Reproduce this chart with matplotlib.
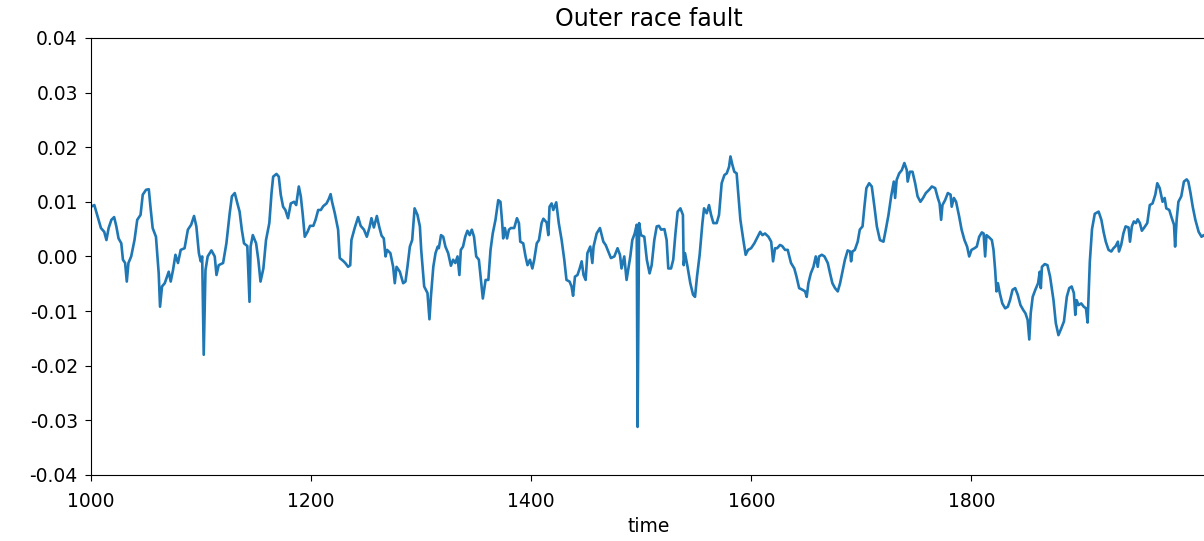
import matplotlib
matplotlib.use("Agg")
import matplotlib.pyplot as plt
import numpy as np

# values (time, amplitude)
time = [1000, 1003, 1006, 1009, 1012, 1014, 1016, 1018.5, 1021, 1023, 1025, 1027.5, 1029, 1031, 1032.5, 1034,
        1036.5, 1039.5, 1042, 1045, 1047, 1050, 1052.5, 1054, 1056, 1059, 1061.5, 1062.7, 1064.5, 1067, 1069,
        1070.6, 1072.4, 1074.5, 1076.7, 1079, 1081.5, 1085, 1088, 1091, 1093.6, 1095.7, 1098, 1099.7, 1101,
        1102.4, 1104, 1106, 1109.4, 1112.4, 1114, 1116, 1120, 1123, 1126, 1128, 1130.6, 1133, 1135, 1137, 1139,
        1142, 1144, 1145, 1147, 1150, 1152, 1154, 1156.6, 1159, 1162, 1164, 1165.5, 1168.5, 1170.6, 1172.4,
        1174.5, 1176.6, 1179, 1181.5, 1184.5, 1186.4, 1188.8, 1190.6, 1192.4, 1194.2, 1196.7, 1199, 1202, 1204,
        1206.4, 1208.8, 1211, 1214, 1216, 1217.7, 1219, 1221.5, 1224.5, 1226, 1229, 1231, 1233.6, 1235.5, 1236.6,
        1239.7, 1242.7, 1245, 1248, 1250.6, 1253, 1254.8, 1257, 1259.7, 1262, 1264, 1266, 1267.6, 1269, 1272,
        1274.5, 1276, 1277.6, 1280.6, 1283.6, 1285.7, 1287.5, 1289.7, 1291.8, 1294, 1296.6, 1298.8, 1300, 1302.7,
        1305.7, 1307.5, 1308.8, 1311, 1313, 1315, 1316, 1318, 1320, 1322, 1324.5, 1327, 1329, 1331, 1333, 1334.7,
        1336, 1338, 1340, 1342, 1344, 1346, 1348, 1350, 1352.4, 1354, 1356, 1358.5, 1361, 1363, 1365, 1367.5, 1370,
        1372, 1373.6, 1374.5, 1376, 1378, 1379.7, 1381.5, 1384.5, 1387, 1388.8, 1390, 1392.7, 1394.8, 1396.6,
        1398.8, 1401, 1402.7, 1405, 1407, 1409.4, 1411, 1414, 1415.5, 1416.6, 1418.5, 1420, 1422.7, 1425, 1427.6,
        1430, 1432, 1434.8, 1436.6, 1438, 1439.7, 1442, 1444, 1445.8, 1447.5, 1449.4, 1451, 1453.6, 1455.5, 1456.6,
        1459.4, 1462.4, 1465.5, 1467.6, 1469.4, 1472.4, 1475.5, 1478.4, 1480.6, 1482, 1484.5, 1486.6, 1488, 1490,
        1491.8, 1494, 1495.8, 1496.6, 1498, 1499.7, 1502.7, 1505, 1507.5, 1509.4, 1511.8, 1514, 1516, 1518, 1521,
        1523, 1524.5, 1527, 1529, 1531, 1533, 1535.5, 1537.8, 1538.5, 1539.7, 1542, 1544.5, 1547, 1548.8, 1550.6,
        1553, 1555.5, 1557, 1559.4, 1561.5, 1563.4, 1565.5, 1568.5, 1570.6, 1573, 1575.5, 1577.6, 1579.7, 1581,
        1582.7, 1584.5, 1586.6, 1588, 1590, 1592.7, 1594.8, 1597, 1599.7, 1602.7, 1605, 1608, 1610, 1612.4, 1615.5,
        1618, 1619.7, 1621.5, 1623.4, 1626, 1628, 1630.6, 1633, 1636, 1639, 1641, 1643.4, 1646.4, 1648.8, 1650.3,
        1651.8, 1654, 1656.4, 1658.5, 1660.3, 1661.5, 1664, 1666.4, 1669.4, 1671.5, 1673.6, 1676, 1678.5, 1680.6,
        1682.7, 1685, 1687.5, 1689.7, 1690.6, 1691.8, 1694, 1696.6, 1698.5, 1701, 1702.7, 1704.5, 1707, 1709.4,
        1711.8, 1714, 1716.8, 1720, 1722.4, 1724.5, 1727, 1729.4, 1730.6, 1732, 1734.3, 1736.7, 1739, 1741.2, 1742,
        1744, 1746.4, 1748.8, 1751, 1753.6, 1756, 1758.5, 1761.5, 1764, 1767, 1769.4, 1771, 1772.4, 1773.6, 1776,
        1778.5, 1781, 1782, 1784, 1786, 1788.8, 1791, 1793.6, 1796, 1797.9, 1800, 1802.7, 1804.8, 1807, 1809.4,
        1811, 1812.4, 1813.6, 1816, 1818.5, 1820, 1821.5, 1822.7, 1824, 1825.7, 1828, 1830.6, 1833, 1835, 1837.3,
        1839.7, 1842, 1844.5, 1847, 1849, 1851, 1852.5, 1853.8, 1855.6, 1858, 1860.5, 1862, 1863, 1864, 1866.6,
        1869, 1871.4, 1874.5, 1876.6, 1879, 1881.5, 1884, 1886.6, 1888.8, 1891, 1893, 1894.3, 1895.5, 1897.3,
        1899.7, 1902, 1904, 1905.5, 1907.5, 1909.5, 1912, 1915.5, 1918, 1920, 1922, 1924.5, 1927, 1929, 1931, 1933,
        1934, 1936, 1938, 1940, 1942.7, 1944, 1945.7, 1947.5, 1949.4, 1951, 1953, 1954.8, 1957, 1959.7, 1962,
        1964.5, 1967, 1968.8, 1971, 1973.6, 1975.5, 1977, 1979.7, 1982, 1984, 1985, 1986.4, 1988, 1990.6, 1993,
        1995.5, 1997, 1999, 2001, 2003.4, 2006.4, 2009, 2011, 2014]

amp = [0.0091, 0.0094, 0.0073, 0.0052, 0.0045, 0.0030, 0.0052, 0.0067, 0.0072, 0.0055, 0.0033, 0.0024, -0.0006,
       -0.0012, -0.0046, -0.0012, 0.0000, 0.0030, 0.0067, 0.0076, 0.0113, 0.0122, 0.0123, 0.0091, 0.0052, 0.0036,
       -0.0031, -0.0092, -0.0055, -0.0049, -0.0037, -0.0028, -0.0046, -0.0025, 0.0003, -0.0012, 0.0012, 0.0015,
       0.0049, 0.0058, 0.0074, 0.0055, 0.0006, -0.0009, 0.0000, -0.0180, -0.0025, 0.0000, 0.0011, 0.0000, -0.0034,
       -0.0016, -0.0012, 0.0024, 0.0079, 0.0110, 0.0116, 0.0097, 0.0082, 0.0049, 0.0024, 0.0019, -0.0083, 0.0018,
       0.0039, 0.0024, -0.0006, -0.0046, -0.0022, 0.0030, 0.0061, 0.0116, 0.0146, 0.0151, 0.0146, 0.0113, 0.0091,
       0.0085, 0.0070, 0.0097, 0.0100, 0.0094, 0.0128, 0.0110, 0.0076, 0.0036, 0.0045, 0.0056, 0.0056, 0.0067,
       0.0085, 0.0085, 0.0092, 0.0097, 0.0105, 0.0114, 0.0100, 0.0079, 0.0049, -0.0003, -0.0008, -0.0012, -0.0019,
       -0.0016, 0.0030, 0.0053, 0.0072, 0.0056, 0.0049, 0.0036, 0.0053, 0.0070, 0.0053, 0.0074, 0.0053, 0.0038,
       0.0033, 0.0000, 0.0012, 0.0006, -0.0019, -0.0049, -0.0019, -0.0028, -0.0049, -0.0046, -0.0019, 0.0018,
       0.0030, 0.0088, 0.0076, 0.0055, 0.0012, -0.0055, -0.0067, -0.0115, -0.0074, -0.0019, 0.0006, 0.0018, 0.0015,
       0.0039, 0.0036, 0.0018, 0.0006, -0.0017, -0.0006, -0.0012, 0.0000, -0.0034, 0.0012, 0.0018, 0.0036, 0.0047,
       0.0039, 0.0049, 0.0036, 0.0000, -0.0006, -0.0037, -0.0077, -0.0043, -0.0043, 0.0012, 0.0042, 0.0067, 0.0103,
       0.0100, 0.0061, 0.0033, 0.0052, 0.0033, 0.0049, 0.0052, 0.0052, 0.0070, 0.0061, 0.0027, 0.0024, 0.0000,
       -0.0016, -0.0006, -0.0022, -0.0006, 0.0024, 0.0030, 0.0061, 0.0069, 0.0062, 0.0039, 0.0091, 0.0097, 0.0085,
       0.0099, 0.0061, 0.0030, -0.0006, -0.0043, -0.0046, -0.0055, -0.0072, -0.0037, -0.0034, -0.0022, -0.0009,
       -0.0034, -0.0043, 0.0006, 0.0018, -0.0012, 0.0018, 0.0042, 0.0052, 0.0027, 0.0021, 0.0012, -0.0003, 0.0000,
       0.0015, 0.0003, -0.0022, 0.0000, -0.0043, -0.0025, 0.0000, 0.0030, 0.0042, 0.0058, -0.0312, 0.0061, 0.0039,
       0.0036, -0.0006, -0.0031, -0.0016, 0.0030, 0.0055, 0.0056, 0.0049, 0.0050, 0.0030, -0.0022, -0.0022, -0.0006,
       0.0042, 0.0082, 0.0088, 0.0076, -0.0016, 0.0006, -0.0019, -0.0049, -0.0070, -0.0074, -0.0037, 0.0003, 0.0061,
       0.0088, 0.0079, 0.0094, 0.0076, 0.0061, 0.0061, 0.0076, 0.0134, 0.0149, 0.0152, 0.0164, 0.0183, 0.0168,
       0.0155, 0.0152, 0.0116, 0.0067, 0.0030, 0.0003, 0.0012, 0.0015, 0.0024, 0.0033, 0.0045, 0.0039, 0.0042,
       0.0036, 0.0027, -0.0009, 0.0015, 0.0015, 0.0021, 0.0019, 0.0012, 0.0012, -0.0012, -0.0022, -0.0037, -0.0058,
       -0.0061, -0.0064, -0.0074, -0.0049, -0.0031, -0.0019, 0.0000, -0.0019, 0.0000, 0.0003, 0.0000, -0.0012,
       -0.0031, -0.0049, -0.0058, -0.0064, -0.0049, -0.0028, -0.0006, 0.0011, 0.0009, -0.0009, 0.0009, 0.0012,
       0.0027, 0.0049, 0.0055, 0.0091, 0.0125, 0.0134, 0.0128, 0.0091, 0.0055, 0.0030, 0.0027, 0.0052, 0.0075,
       0.0110, 0.0137, 0.0107, 0.0140, 0.0152, 0.0158, 0.0171, 0.0158, 0.0137, 0.0155, 0.0155, 0.0134, 0.0110,
       0.0100, 0.0107, 0.0116, 0.0122, 0.0128, 0.0125, 0.0107, 0.0097, 0.0067, 0.0094, 0.0103, 0.0116, 0.0113,
       0.0091, 0.0107, 0.0100, 0.0073, 0.0049, 0.0030, 0.0018, 0.0000, 0.0012, 0.0015, 0.0018, 0.0036, 0.0044,
       0.0042, 0.0000, 0.0039, 0.0035, 0.0030, 0.0012, -0.0025, -0.0064, -0.0049, -0.0067, -0.0086, -0.0095,
       -0.0092, -0.0080, -0.0061, -0.0058, -0.0070, -0.0089, -0.0098, -0.0104, -0.0116, -0.0152, -0.0104, -0.0074,
       -0.0061, -0.0049, -0.0028, -0.0058, -0.0019, -0.0014, -0.0016, -0.0037, -0.0080, -0.0122, -0.0144, -0.0132,
       -0.0119, -0.0074, -0.0058, -0.0055, -0.0067, -0.0107, -0.0080, -0.0089, -0.0086, -0.0092, -0.0095, -0.0121,
       -0.0010, 0.0050, 0.0078, 0.0082, 0.0067, 0.0045, 0.0027, 0.0012, 0.0009, 0.0015, 0.0019, 0.0027, 0.0009,
       0.0021, 0.0042, 0.0055, 0.0053, 0.0027, 0.0055, 0.0064, 0.0061, 0.0068, 0.0061, 0.0047, 0.0053, 0.0061,
       0.0094, 0.0097, 0.0113, 0.0134, 0.0125, 0.0100, 0.0107, 0.0088, 0.0085, 0.0070, 0.0058, 0.0018, 0.0067,
       0.0100, 0.0110, 0.0137, 0.0141, 0.0137, 0.0116, 0.0091, 0.0067, 0.0045, 0.0036, 0.0039, 0.0032]

xticks = [1000, 1200, 1400, 1600, 1800]

plt.rcParams['axes.unicode_minus'] = False
plt.rcParams['font.size'] = 13.5

fig = plt.figure(figsize=(12.04, 5.41), dpi=100)
ax = fig.add_axes([0.0756, 0.122, 0.926, 0.808])
ax.plot(time, amp, color='#1f77b4', linewidth=1.9)
ax.set_xlim(1000, 2013)
ax.set_ylim(-0.04, 0.04)
ax.set_xticks(xticks)
ax.set_yticks(np.arange(-0.04, 0.0401, 0.01))
ax.tick_params(length=4.5, pad=5)
ax.tick_params(axis='x', pad=7.5)
ax.set_title("Outer race fault", fontsize=17, pad=8.5)
ax.set_xlabel("time", labelpad=4.5)
fig.savefig("out.png", dpi=100)
